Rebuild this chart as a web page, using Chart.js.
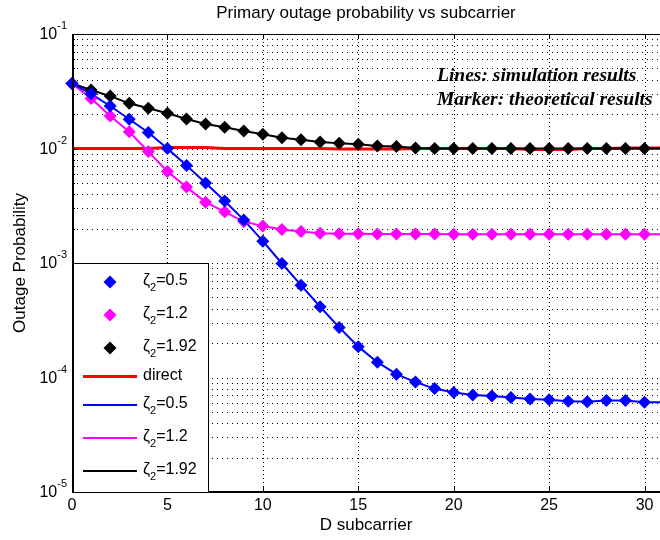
<!DOCTYPE html>
<html>
<head>
<meta charset="utf-8">
<title>Primary outage probability vs subcarrier</title>
<script src="https://cdn.jsdelivr.net/npm/chart.js@4.4.1/dist/chart.umd.min.js"></script>
<style>
    html, body { margin: 0; padding: 0; background: #fff; }
    #wrap { width: 660px; height: 540px; }
</style>
</head>
<body>
<div id="wrap"><canvas id="chart" width="660" height="540"></canvas></div>
<script>
// D subcarrier (x axis)
const subcarriers = [0, 1, 2, 3, 4, 5, 6, 7, 8, 9, 10, 11, 12, 13, 14, 15,
    16, 17, 18, 19, 20, 21, 22, 23, 24, 25, 26, 27, 28, 29, 30, 31];

// theoretical results (markers)
const theoryZeta05 = [0.037, 0.0300, 0.0235, 0.0180, 0.0138, 0.0100, 0.0071, 0.0050,
    0.00348, 0.00238, 0.00155, 0.00099, 0.00064, 0.000415, 0.000274, 0.000186,
    0.000136, 0.000107, 0.0000912, 0.0000800, 0.0000740, 0.0000705, 0.0000690, 0.0000670,
    0.0000650, 0.0000640, 0.0000620, 0.0000615, 0.0000630, 0.0000630, 0.0000607, 0.0000610];
const theoryZeta12 = [0.037, 0.0274, 0.0192, 0.0140, 0.0094, 0.0063, 0.0046, 0.0034,
    0.0028, 0.0023, 0.0021, 0.00196, 0.00188, 0.00182, 0.00180, 0.00180,
    0.00179, 0.00179, 0.00179, 0.00179, 0.00178, 0.00178, 0.00178, 0.00178,
    0.00178, 0.00178, 0.00178, 0.00178, 0.00178, 0.00178, 0.00178, 0.00178];
const theoryZeta192 = [0.037, 0.0324, 0.0287, 0.0248, 0.0225, 0.0203, 0.0181, 0.0164,
    0.0153, 0.0142, 0.0133, 0.0124, 0.0119, 0.0114, 0.0111, 0.0109,
    0.0105, 0.0104, 0.0101, 0.0100, 0.0100, 0.0100, 0.0100, 0.0100,
    0.0100, 0.0100, 0.0100, 0.0100, 0.0100, 0.0100, 0.0100, 0.0100];

// simulation results (lines)
const simDirect = [0.0100, 0.0100, 0.0100, 0.0100, 0.0100, 0.0102, 0.0102, 0.0102,
    0.0100, 0.0100, 0.0100, 0.0100, 0.0100, 0.0100, 0.0099, 0.0099,
    0.0099, 0.0099, 0.0100, 0.0100, 0.0100, 0.0100, 0.0100, 0.0100,
    0.0098, 0.0098, 0.0098, 0.0100, 0.0100, 0.0101, 0.0101, 0.0101];
const simZeta05 = theoryZeta05;
const simZeta12 = theoryZeta12;
const simZeta192 = theoryZeta192;

// ticks
const xTickValues = [0, 5, 10, 15, 20, 25, 30];
const yTickExponents = [-1, -2, -3, -4, -5];

const SANS = '"Liberation Sans", Arial, sans-serif';
const SERIF = '"Liberation Serif", "Times New Roman", serif';

function toPoints(values) {
    return values.map((v, i) => ({ x: subcarriers[i], y: v }));
}

function markerSet(label, color, values) {
    return {
        label: label,
        data: toPoints(values),
        showLine: false,
        pointStyle: 'rectRot',
        pointRadius: 6.5,
        pointBorderWidth: 0,
        pointBackgroundColor: color,
        borderColor: color,
        backgroundColor: color,
        clip: false,
        order: 0
    };
}

function lineSet(label, color, values, width, order) {
    return {
        label: label,
        data: toPoints(values),
        borderColor: color,
        backgroundColor: color,
        borderWidth: width,
        pointRadius: 0,
        tension: 0,
        clip: false,
        order: order
    };
}

// grid, axes box, text and legend in the old MATLAB figure style
const matlabLook = {
    id: 'matlabLook',
    beforeDatasetsDraw(chart) {
        const { ctx, chartArea: a, scales: { x, y } } = chart;
        const right = chart.width;
        ctx.save();
        ctx.strokeStyle = '#000';
        ctx.lineWidth = 1;

        // horizontal dotted grid, decades and minor steps
        ctx.setLineDash([1, 4]);
        const pMin = Math.round(Math.log10(y.min));
        const pMax = Math.round(Math.log10(y.max));
        for (let p = pMin; p < pMax; p++) {
            for (let m = 1; m <= 9; m++) {
                const py = Math.round(y.getPixelForValue(m * Math.pow(10, p))) + 0.5;
                ctx.beginPath();
                ctx.moveTo(a.left, py);
                ctx.lineTo(right, py);
                ctx.stroke();
            }
        }

        // vertical dotted grid
        ctx.setLineDash([1, 3]);
        xTickValues.forEach(v => {
            if (v === 0) return;
            const px = Math.round(x.getPixelForValue(v)) + 0.5;
            ctx.beginPath();
            ctx.moveTo(px, a.top);
            ctx.lineTo(px, a.bottom);
            ctx.stroke();
        });
        ctx.restore();
    },

    afterDatasetsDraw(chart) {
        const { ctx, chartArea: a, scales: { x, y } } = chart;
        const right = chart.width;
        const midX = (a.left + right) / 2;
        ctx.save();
        ctx.strokeStyle = '#000';
        ctx.fillStyle = '#000';
        ctx.setLineDash([]);

        // axes box
        ctx.lineWidth = 1;
        ctx.beginPath();
        ctx.moveTo(a.left, a.top + 0.5);
        ctx.lineTo(right, a.top + 0.5);
        ctx.stroke();
        ctx.lineWidth = 2;
        ctx.beginPath();
        ctx.moveTo(a.left + 1, a.top);
        ctx.lineTo(a.left + 1, a.bottom);
        ctx.lineTo(right, a.bottom);
        ctx.stroke();

        // tick marks
        ctx.lineWidth = 1;
        xTickValues.forEach(v => {
            const px = Math.round(x.getPixelForValue(v)) + 0.5;
            ctx.beginPath();
            ctx.moveTo(px, a.bottom);
            ctx.lineTo(px, a.bottom - 5);
            ctx.moveTo(px, a.top);
            ctx.lineTo(px, a.top + 5);
            ctx.stroke();
        });
        for (let p = -5; p < -1; p++) {
            for (let m = 1; m <= 9; m++) {
                const py = Math.round(y.getPixelForValue(m * Math.pow(10, p))) + 0.5;
                ctx.beginPath();
                ctx.moveTo(a.left, py);
                ctx.lineTo(a.left + (m === 1 ? 6 : 3), py);
                ctx.stroke();
            }
        }

        // y tick labels 10^n
        yTickExponents.forEach(e => {
            const py = y.getPixelForValue(Math.pow(10, e));
            ctx.font = '11px ' + SANS;
            const expText = String(e);
            const expW = ctx.measureText(expText).width;
            ctx.textAlign = 'left';
            ctx.textBaseline = 'middle';
            const expX = a.left - 5 - expW;
            ctx.fillText(expText, expX, py - 8);
            ctx.font = '16px ' + SANS;
            ctx.textAlign = 'right';
            ctx.fillText('10', expX, py + 1);
        });

        // x tick labels
        ctx.font = '16px ' + SANS;
        ctx.textAlign = 'center';
        ctx.textBaseline = 'middle';
        xTickValues.forEach(v => {
            ctx.fillText(String(v), x.getPixelForValue(v), a.bottom + 14);
        });

        // axis titles and title
        ctx.font = '17px ' + SANS;
        ctx.fillText('D subcarrier', midX, a.bottom + 33);
        ctx.fillText('Primary outage probability vs subcarrier', midX, 13);
        ctx.save();
        ctx.translate(20, (a.top + a.bottom) / 2);
        ctx.rotate(-Math.PI / 2);
        ctx.fillText('Outage Probability', 0, 0);
        ctx.restore();

        // note
        ctx.font = 'italic bold 19.5px ' + SERIF;
        ctx.textAlign = 'left';
        ctx.fillText('Lines: simulation results', 437, 76);
        ctx.fillText('Marker: theoretical results', 437, 100);

        drawLegend(chart, a);
        ctx.restore();
    }
};

function drawLegend(chart, a) {
    const ctx = chart.ctx;
    const boxLeft = a.left + 1;
    const boxRight = 208;
    const boxTop = 263;
    const boxBottom = a.bottom;

    ctx.fillStyle = '#fff';
    ctx.fillRect(boxLeft, boxTop, boxRight - boxLeft, boxBottom - boxTop);
    ctx.strokeStyle = '#000';
    ctx.lineWidth = 1;
    ctx.strokeRect(boxLeft + 0.5, boxTop + 0.5, boxRight - boxLeft, boxBottom - boxTop);

    let rowTop = boxTop + 2.5;
    chart.data.datasets.forEach(ds => {
        const hasSub = ds.label.indexOf('\u2082') >= 0;
        const h = hasSub ? 33 : 24;
        const cy = rowTop + h / 2;
        rowTop += h;

        if (ds.showLine === false) {
            const r = 6.5;
            ctx.fillStyle = ds.pointBackgroundColor;
            ctx.beginPath();
            ctx.moveTo(110 - r, cy);
            ctx.lineTo(110, cy - r);
            ctx.lineTo(110 + r, cy);
            ctx.lineTo(110, cy + r);
            ctx.closePath();
            ctx.fill();
        } else {
            ctx.strokeStyle = ds.borderColor;
            ctx.lineWidth = ds.borderWidth;
            ctx.beginPath();
            ctx.moveTo(83, cy);
            ctx.lineTo(137, cy);
            ctx.stroke();
        }

        ctx.fillStyle = '#000';
        ctx.textAlign = 'left';
        ctx.textBaseline = 'middle';
        let tx = 143;
        if (hasSub) {
            const parts = ds.label.split('\u2082');
            ctx.font = '16px ' + SANS;
            ctx.fillText(parts[0], tx, cy - 1);
            tx += ctx.measureText(parts[0]).width;
            ctx.font = '11px ' + SANS;
            ctx.fillText('2', tx, cy + 6);
            tx += ctx.measureText('2').width;
            ctx.font = '16px ' + SANS;
            ctx.fillText(parts[1], tx, cy - 1);
        } else {
            ctx.font = '16px ' + SANS;
            ctx.fillText(ds.label, tx, cy - 1);
        }
    });
}

const chart = new Chart(document.getElementById('chart'), {
    type: 'line',
    data: {
        datasets: [
            markerSet('\u03b6\u2082=0.5', '#0000ff', theoryZeta05),
            markerSet('\u03b6\u2082=1.2', '#ff00ff', theoryZeta12),
            markerSet('\u03b6\u2082=1.92', '#000000', theoryZeta192),
            lineSet('direct', '#ff0000', simDirect, 3, 10),
            lineSet('\u03b6\u2082=0.5', '#0000ff', simZeta05, 2, 5),
            lineSet('\u03b6\u2082=1.2', '#ff00ff', simZeta12, 2, 5),
            lineSet('\u03b6\u2082=1.92', '#000000', simZeta192, 2, 5)
        ]
    },
    options: {
        responsive: false,
        devicePixelRatio: 1,
        animation: false,
        layout: { padding: { top: 34, left: 0, right: 0, bottom: 0 } },
        plugins: {
            legend: { display: false },
            title: { display: false },
            tooltip: { enabled: false }
        },
        scales: {
            x: {
                type: 'linear',
                min: 0,
                max: 30.47,
                grid: { display: false },
                border: { display: false },
                ticks: { display: false },
                afterFit: scale => { scale.height = 48; }
            },
            y: {
                type: 'logarithmic',
                min: 1e-5,
                max: 1e-1,
                grid: { display: false },
                border: { display: false },
                ticks: { display: false },
                afterFit: scale => { scale.width = 72; }
            }
        }
    },
    plugins: [matlabLook]
});
</script>
</body>
</html>
